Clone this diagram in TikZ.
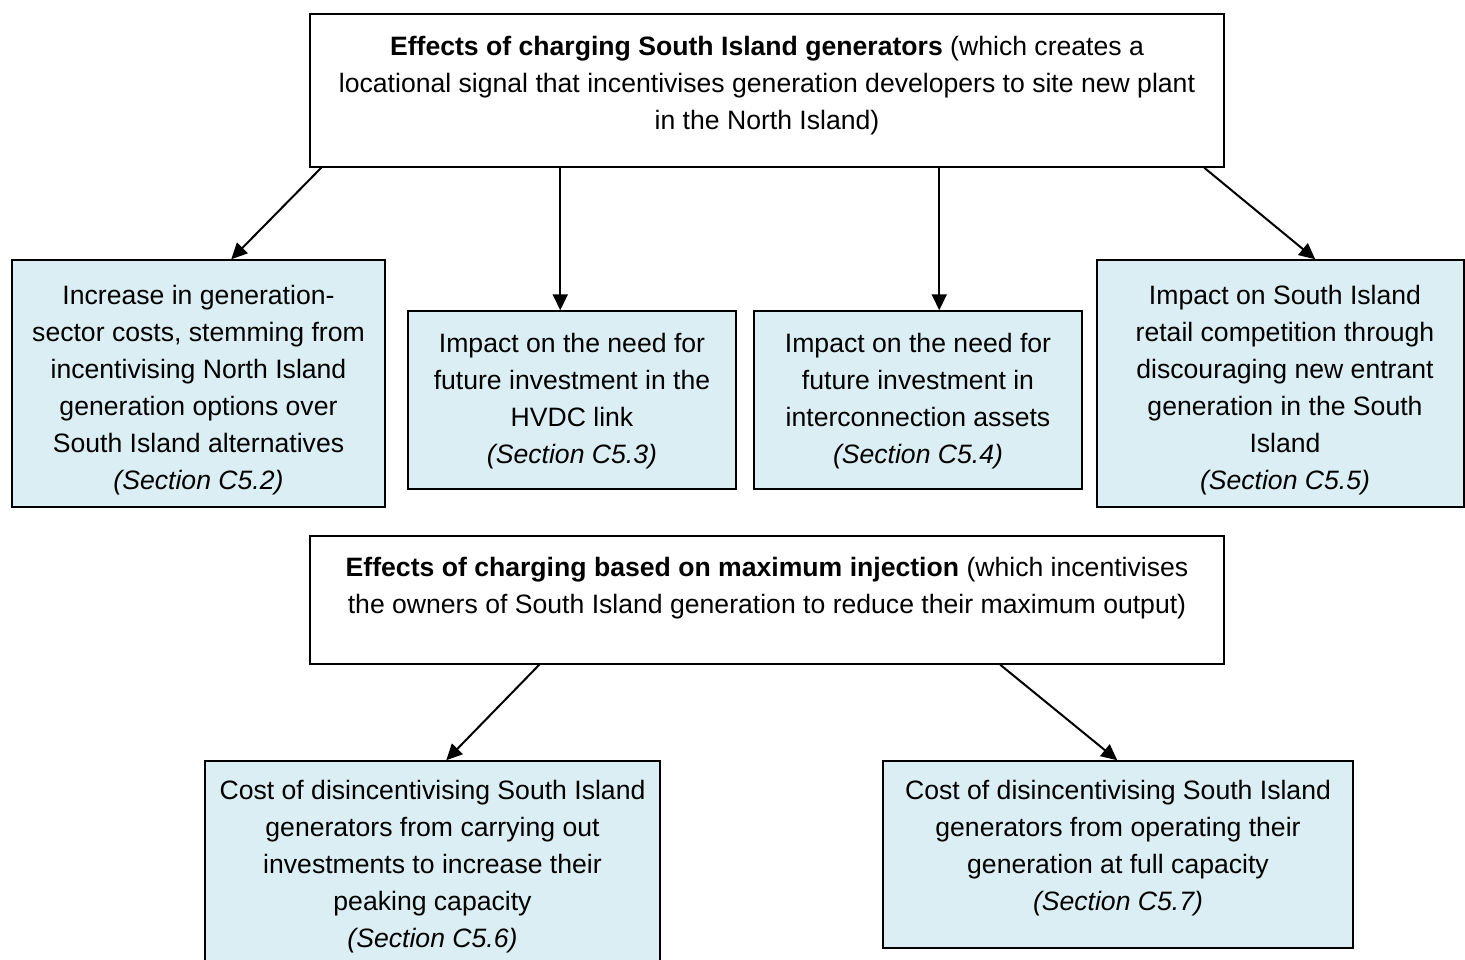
\documentclass[tikz,border=0pt]{standalone}
\usepackage{fontspec}
\setmainfont{Liberation Sans}
\usetikzlibrary{arrows.meta,calc}
\definecolor{boxblue}{HTML}{DAEEF3}
\tikzset{
  box/.style={draw=black, line width=1.5pt, inner sep=0pt, rectangle},
  bluebox/.style={box, fill=boxblue},
  txt/.style={anchor=north, align=center, inner sep=0pt, font={\fontsize{26.6}{37}\selectfont}},
  arr/.style={line width=2pt, -{Triangle[length=16pt,width=15pt]}}
}
\begin{document}
\begin{tikzpicture}[x=1pt,y=-1pt]
\useasboundingbox (0,0) rectangle (1465,960);
\clip (0,0) rectangle (1465,960);
% boxes
\node[box, fill=white, minimum width=914pt, minimum height=153pt] (top) at (767,90.5) {};
\node[bluebox, minimum width=373pt, minimum height=247pt] (a) at (198.5,383.5) {};
\node[bluebox, minimum width=328pt, minimum height=178pt] (b) at (572,400) {};
\node[bluebox, minimum width=328pt, minimum height=178pt] (c) at (918,400) {};
\node[bluebox, minimum width=367pt, minimum height=247pt] (d) at (1280.5,383.5) {};
\node[box, fill=white, minimum width=914pt, minimum height=128pt] (mid) at (767,600) {};
\node[bluebox, minimum width=455pt, minimum height=224pt] (e) at (432.5,873) {};
\node[bluebox, minimum width=470pt, minimum height=187pt] (f) at (1118,854.5) {};
% texts
\node[txt] (topt) at (767,36) {\textbf{Effects of charging South Island generators} (which creates a\\locational signal that incentivises generation developers to site new plant\\in the North Island)};
\node[txt] (at) at (198.5,285) {Increase in generation-\\sector costs, stemming from\\incentivising North Island\\generation options over\\South Island alternatives\\\textit{(Section C5.2)}};
\node[txt] (bt) at (572,333) {Impact on the need for\\future investment in the\\HVDC link\\\textit{(Section C5.3)}};
\node[txt] (ct) at (918,333) {Impact on the need for\\future investment in\\interconnection assets\\\textit{(Section C5.4)}};
\node[txt] (dt) at (1285,285) {Impact on South Island\\retail competition through\\discouraging new entrant\\generation in the South\\Island\\\textit{(Section C5.5)}};
\node[txt] (midt) at (767,557) {\textbf{Effects of charging based on maximum injection} (which incentivises\\the owners of South Island generation to reduce their maximum output)};
\node[txt] (et) at (432.5,780) {Cost of disincentivising South Island\\generators from carrying out\\investments to increase their\\peaking capacity\\\textit{(Section C5.6)}};
\node[txt] (ft) at (1118,780) {Cost of disincentivising South Island\\generators from operating their\\generation at full capacity\\\textit{(Section C5.7)}};
% arrows
\draw[arr] ($(top.south west)+(12,0)$) -- ($(a.north west)+(220,0)$);
\draw[arr] ($(top.south west)+(251,0)$) -- ($(b.north west)+(153,0)$);
\draw[arr] ($(top.south west)+(630,0)$) -- ($(c.north west)+(186,0)$);
\draw[arr] ($(top.south west)+(895,0)$) -- ($(d.north west)+(219,0)$);
\draw[arr] ($(mid.south west)+(230,0)$) -- ($(e.north west)+(242,0)$);
\draw[arr] ($(mid.south west)+(691,0)$) -- ($(f.north west)+(235,0)$);
\end{tikzpicture}
\end{document}
